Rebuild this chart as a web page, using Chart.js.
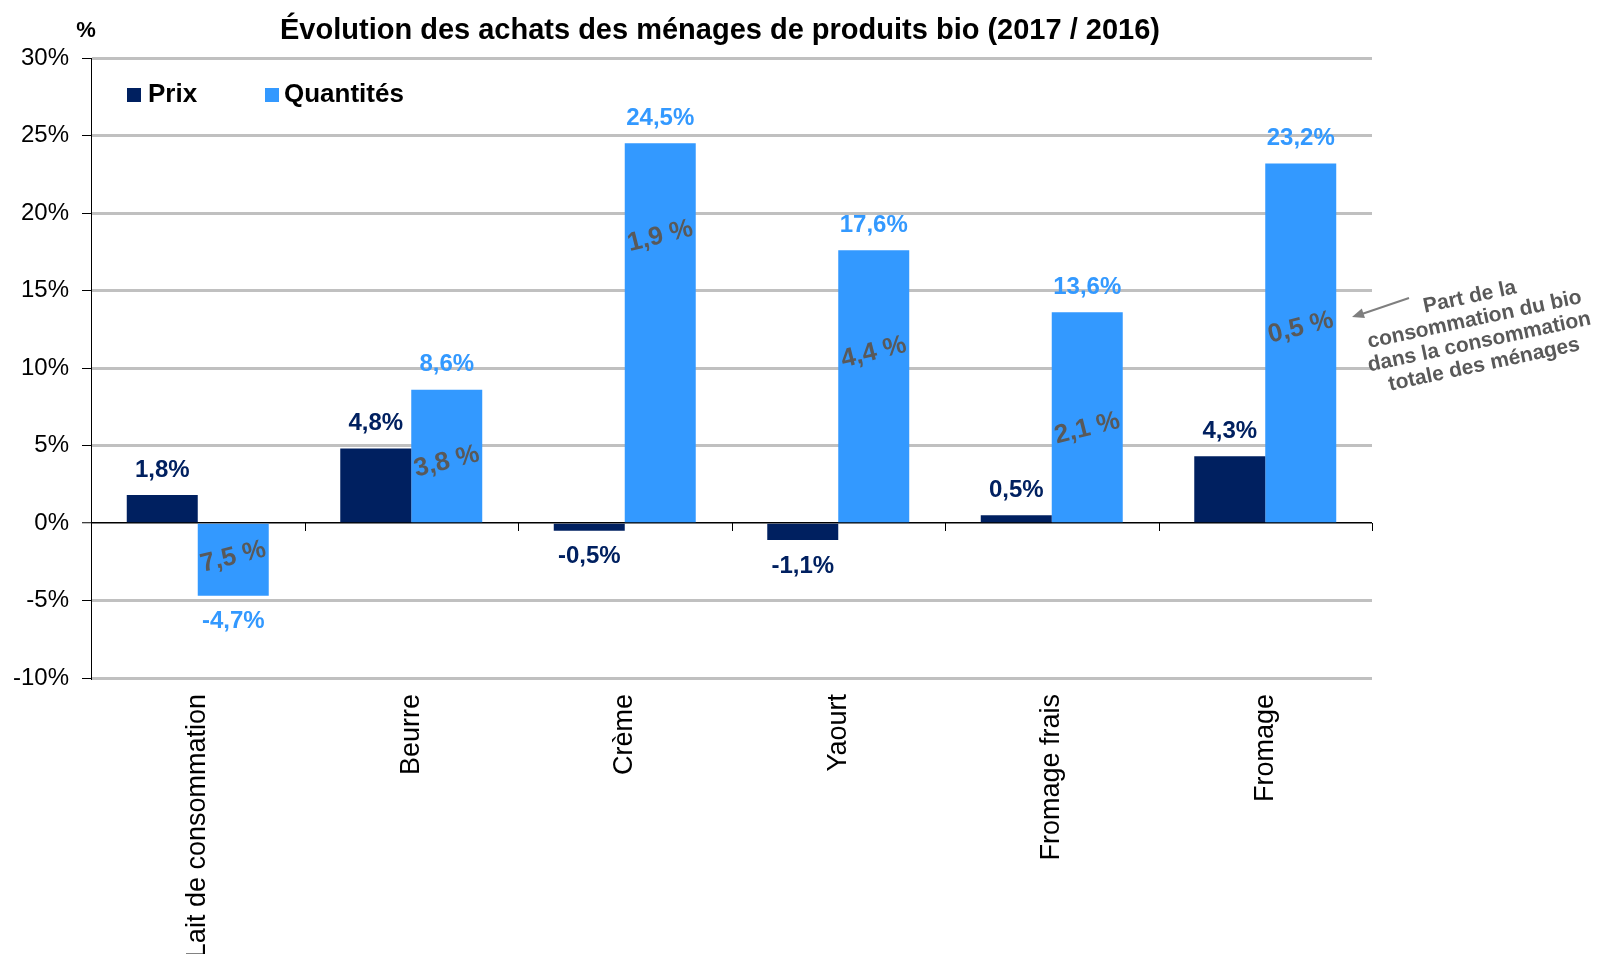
<!DOCTYPE html>
<html>
<head>
<meta charset="utf-8">
<script src="https://cdn.jsdelivr.net/npm/chart.js@4"></script>
<style>
  html, body { margin: 0; padding: 0; background: #fff; }
  #wrap { width: 1597px; height: 954px; }
</style>
</head>
<body>
<div id="wrap"><canvas id="chart" width="1597" height="954"></canvas></div>
<script>
// données
const categories = ["Lait de consommation", "Beurre", "Crème", "Yaourt", "Fromage frais", "Fromage"]
const prix = [1.8, 4.8, -0.5, -1.1, 0.5, 4.3]
const quantites = [-4.7, 8.6, 24.5, 17.6, 13.6, 23.2]
// part du bio dans la consommation totale (%)
const partBio = [7.5, 3.8, 1.9, 4.4, 2.1, 0.5]
const yTicks = [-10, -5, 0, 5, 10, 15, 20, 25, 30]

const FONT = "'Liberation Sans', Arial, sans-serif"
const NAVY = "#002060"
const BLUE = "#3399FF"
const GREY_TXT = "#595959"

function fr(v) {
    return v.toFixed(1).replace(".", ",")
}

// hauteur (en %) où sont posées les parts du bio dans les barres
const partBioLevel = [-2.2, 3.95, 18.5, 11.0, 6.1, 12.6]

const decorPlugin = {
    id: "decor",
    afterDatasetsDraw(chart) {
        const ctx = chart.ctx
        const area = chart.chartArea
        const y = chart.scales.y
        const y0 = y.getPixelForValue(0)

        ctx.save()
        // petits traits de l'axe des catégories
        ctx.strokeStyle = "#000"
        ctx.lineWidth = 1
        const step = (area.right - area.left) / categories.length
        for (let i = 1; i <= categories.length; i++) {
            const px = Math.round(area.left + i * step) + 0.5
            ctx.beginPath()
            ctx.moveTo(px, y0)
            ctx.lineTo(px, y0 + 8)
            ctx.stroke()
        }

        // étiquettes de valeurs
        ctx.font = "bold 24px " + FONT
        ctx.textAlign = "center"
        ctx.textBaseline = "middle"
        chart.data.datasets.forEach((ds, di) => {
            const meta = chart.getDatasetMeta(di)
            meta.data.forEach((bar, i) => {
                const v = ds.data[i]
                ctx.fillStyle = ds.labelColor
                const ty = v >= 0 ? bar.y - 25 : bar.y + 26
                ctx.fillText(fr(v) + "%", bar.x, ty)
            })
        })

        // part du bio, texte incliné dans les barres Quantités
        const metaQ = chart.getDatasetMeta(1)
        ctx.font = "bold 26px " + FONT
        ctx.fillStyle = GREY_TXT
        metaQ.data.forEach((bar, i) => {
            ctx.save()
            ctx.translate(bar.x, y.getPixelForValue(partBioLevel[i]))
            ctx.rotate(-14 * Math.PI / 180)
            ctx.fillText(fr(partBio[i]) + " %", 0, 0)
            ctx.restore()
        })

        // titre et unité
        ctx.fillStyle = "#000"
        ctx.font = "bold 29px " + FONT
        ctx.fillText("Évolution des achats des ménages de produits bio (2017 / 2016)", 720, 31)
        ctx.font = "bold 22px " + FONT
        ctx.fillText("%", 86, 31)

        // légende
        ctx.font = "bold 26px " + FONT
        ctx.textAlign = "left"
        const items = [[127, 148], [265, 284]]
        chart.data.datasets.forEach((ds, di) => {
            ctx.fillStyle = ds.backgroundColor
            ctx.fillRect(items[di][0], 88, 14, 14)
            ctx.fillStyle = "#000"
            ctx.fillText(ds.label, items[di][1], 95)
        })

        // annotation
        ctx.strokeStyle = "#7F7F7F"
        ctx.fillStyle = "#7F7F7F"
        ctx.lineWidth = 2
        ctx.beginPath()
        ctx.moveTo(1409, 298)
        ctx.lineTo(1356, 316)
        ctx.stroke()
        ctx.save()
        ctx.translate(1352, 317)
        ctx.rotate(Math.atan2(-19, 57))
        ctx.beginPath()
        ctx.moveTo(0, 0)
        ctx.lineTo(12, -5)
        ctx.lineTo(12, 5)
        ctx.closePath()
        ctx.fill()
        ctx.restore()

        ctx.save()
        ctx.translate(1477, 331)
        ctx.rotate(-12 * Math.PI / 180)
        ctx.fillStyle = GREY_TXT
        ctx.font = "bold 21px " + FONT
        ctx.textAlign = "center"
        const lines = ["Part de la", "consommation du bio", "dans la consommation", "totale des ménages"]
        lines.forEach((l, i) => ctx.fillText(l, 0, (i - 1.5) * 23))
        ctx.restore()

        ctx.restore()
    }
}

new Chart(document.getElementById("chart"), {
    type: "bar",
    data: {
        labels: categories,
        datasets: [{
            label: "Prix",
            data: prix,
            backgroundColor: NAVY,
            labelColor: NAVY,
            barPercentage: 1,
            categoryPercentage: 0.665
        }, {
            label: "Quantités",
            data: quantites,
            backgroundColor: BLUE,
            labelColor: BLUE,
            barPercentage: 1,
            categoryPercentage: 0.665
        }]
    },
    options: {
        responsive: false,
        animation: false,
        layout: { padding: { top: 58, right: 225, left: 0, bottom: 0 } },
        plugins: {
            legend: { display: false },
            tooltip: { enabled: false }
        },
        scales: {
            x: {
                grid: { display: false },
                border: { display: false },
                ticks: {
                    minRotation: 90,
                    maxRotation: 90,
                    autoSkip: false,
                    padding: 8,
                    color: "#000",
                    font: { family: FONT, size: 27 }
                },
                afterFit(scale) { scale.height = 276 }
            },
            y: {
                min: -10,
                max: 30,
                afterBuildTicks(scale) {
                    scale.ticks = yTicks.map(v => ({ value: v }))
                },
                grid: {
                    color: c => c.tick && c.tick.value === 0 ? "#000" : "#C0C0C0",
                    lineWidth: c => c.tick && c.tick.value === 0 ? 1.5 : 3,
                    tickColor: "#000",
                    tickWidth: 1,
                    tickLength: 9
                },
                border: { color: "#000", width: 1 },
                ticks: {
                    padding: 13,
                    color: "#000",
                    font: { family: FONT, size: 24 },
                    callback: v => v + "%"
                },
                afterFit(scale) { scale.width = 91 }
            }
        }
    },
    plugins: [decorPlugin]
})
</script>
</body>
</html>
